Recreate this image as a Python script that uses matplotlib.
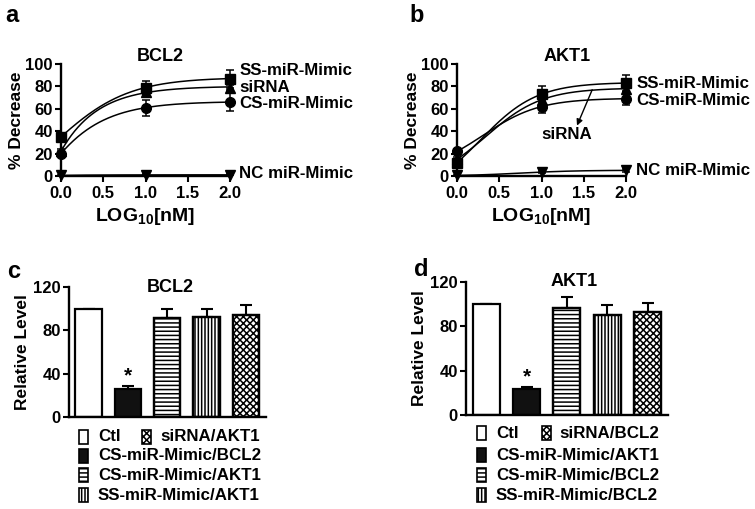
import numpy as np
import matplotlib
matplotlib.use("Agg")
import matplotlib.pyplot as plt
from matplotlib.patches import Rectangle

plt.rcParams['font.family'] = ['Liberation Sans', 'DejaVu Sans']
plt.rcParams['font.weight'] = 'bold'
plt.rcParams['axes.labelweight'] = 'bold'
plt.rcParams['mathtext.fontset'] = 'custom'
plt.rcParams['mathtext.rm'] = 'Liberation Sans:bold'
plt.rcParams['mathtext.bf'] = 'Liberation Sans:bold'
plt.rcParams['mathtext.it'] = 'Liberation Sans:bold'
plt.rcParams['hatch.linewidth'] = 1.1

# ---------------- data ----------------
log_dose = [0.0, 1.0, 2.0]
series_names = ['SS-miR-Mimic', 'siRNA', 'CS-miR-Mimic', 'NC miR-Mimic']
series_markers = ['s', '^', 'o', 'v']

bcl2_mean = {
    'SS-miR-Mimic': [35, 79, 87],
    'siRNA': [22, 75, 79],
    'CS-miR-Mimic': [20, 61, 66],
    'NC miR-Mimic': [0.5, 1.0, 1.0],
}
bcl2_err = {
    'SS-miR-Mimic': [2, 6, 8],
    'siRNA': [2, 3, 2],
    'CS-miR-Mimic': [2, 7, 8],
    'NC miR-Mimic': [0.5, 0.5, 0.5],
}
akt1_mean = {
    'SS-miR-Mimic': [12, 73, 83],
    'siRNA': [15, 68, 78],
    'CS-miR-Mimic': [22, 62, 69],
    'NC miR-Mimic': [0.5, 3.5, 5.0],
}
akt1_err = {
    'SS-miR-Mimic': [2, 7, 7],
    'siRNA': [2, 4, 3],
    'CS-miR-Mimic': [2, 6, 6],
    'NC miR-Mimic': [0.5, 1, 1],
}

bar_labels_c = ['Ctl', 'CS-miR-Mimic/BCL2', 'CS-miR-Mimic/AKT1', 'SS-miR-Mimic/AKT1', 'siRNA/AKT1']
bar_vals_c = [100, 26, 91.5, 92.5, 94.3]
bar_err_c = [0, 3, 8, 7, 9]
bar_labels_d = ['Ctl', 'CS-miR-Mimic/AKT1', 'CS-miR-Mimic/BCL2', 'SS-miR-Mimic/BCL2', 'siRNA/BCL2']
bar_vals_d = [100, 23, 96.5, 90.3, 92.4]
bar_err_d = [0, 2.5, 9.5, 8.7, 8.6]
bar_fill = ['white', '#111111', 'white', 'white', 'white']
bar_hatch = [None, None, '----', '|||||', 'xxxxx']

W, H = 755, 509
fig = plt.figure(figsize=(W / 100, H / 100), dpi=100)


def ax_px(l, t, r, b):
    return fig.add_axes([l / W, 1 - b / H, (r - l) / W, (b - t) / H])


def fx(x):
    return x / W


def fy(y):
    return 1 - y / H


def hill_fit(x, y, h):
    x = np.asarray(x, float)
    y = np.asarray(y, float)
    best = None
    for c in np.linspace(-3, 4, 3501):
        s = 1 / (1 + 10 ** ((c - x) * h))
        A = np.column_stack([np.ones_like(s), s])
        coef = np.linalg.lstsq(A, y, rcond=None)[0]
        r = np.sum((A @ coef - y) ** 2)
        if best is None or r < best[0]:
            best = (r, c, coef)
    _, c, coef = best
    xs = np.linspace(0, 2, 200)
    return xs, coef[0] + coef[1] / (1 + 10 ** ((c - xs) * h))


def style_axes(ax):
    for s in ['top', 'right']:
        ax.spines[s].set_visible(False)
    for s in ['left', 'bottom']:
        ax.spines[s].set_linewidth(1.7)
    ax.tick_params(direction='out', length=4, width=1.5, labelsize=12, pad=2)


def dose_panel(ax, mean, err, hill):
    for name, mk in zip(series_names, series_markers):
        xs, ys = hill_fit(log_dose, mean[name], hill)
        ax.plot(xs, ys, color='black', lw=1.1, clip_on=False, zorder=2)
        ax.errorbar(log_dose, mean[name], yerr=err[name], fmt=mk, color='black',
                    ms=7, capsize=3, elinewidth=1.1, capthick=1.1,
                    clip_on=False, zorder=3)
    ax.set_xlim(0, 2)
    ax.set_ylim(0, 100)
    ax.set_xticks([0, 0.5, 1.0, 1.5, 2.0])
    ax.set_xticklabels(['0.0', '0.5', '1.0', '1.5', '2.0'])
    ax.set_yticks([0, 20, 40, 60, 80, 100])
    style_axes(ax)
    ax.tick_params(axis='x', pad=3)
    ax.set_xlabel('LOG$_{10}$[nM]', fontsize=14, labelpad=4)
    ax.set_ylabel('% Decrease', fontsize=12.5, labelpad=1)


# ---- panel a ----
axa = ax_px(61, 64, 230, 176)
dose_panel(axa, bcl2_mean, bcl2_err, 1.0)
axa.text(1.17, 107, 'BCL2', ha='center', va='center', fontsize=13)
for txt, yv in [('SS-miR-Mimic', 94), ('siRNA', 79), ('CS-miR-Mimic', 65), ('NC miR-Mimic', 1.8)]:
    axa.text(2.11, yv, txt, ha='left', va='center', fontsize=12.2)

# ---- panel b ----
axb = ax_px(457, 64, 626, 176)
dose_panel(axb, akt1_mean, akt1_err, 1.3)
axb.text(1.3, 107, 'AKT1', ha='center', va='center', fontsize=13)
for txt, yv in [('SS-miR-Mimic', 83), ('CS-miR-Mimic', 67), ('NC miR-Mimic', 4.5)]:
    axb.text(2.12, yv, txt, ha='left', va='center', fontsize=12.2)
axb.annotate('', xy=(1.42, 45), xytext=(1.6, 77),
             arrowprops=dict(arrowstyle='-|>', color='black', lw=1.0,
                             shrinkA=0, shrinkB=0, mutation_scale=9))
axb.text(1.30, 37, 'siRNA', ha='center', va='center', fontsize=12.2)


# ---- bar panels ----
def bar_panel(ax, vals, errs):
    xs = np.arange(len(vals))
    ax.bar(xs, vals, width=0.67, color=bar_fill, edgecolor='black', linewidth=1.6,
           zorder=2)
    for i, h in enumerate(bar_hatch):
        if h:
            ax.bar(xs[i], vals[i], width=0.67, color='none', edgecolor='black',
                   linewidth=1.6, hatch=h, zorder=2)
    ax.errorbar(xs, vals, yerr=[[0] * len(errs), errs], fmt='none', ecolor='black',
                elinewidth=1.5, capsize=4.5, capthick=1.5, zorder=1)
    ax.set_xlim(-0.5, 4.5)
    ax.set_ylim(0, 120)
    ax.set_yticks([0, 40, 80, 120])
    ax.set_xticks([])
    style_axes(ax)
    ax.set_ylabel('Relative Level', fontsize=12.5, labelpad=2)
    ax.text(xs[1], vals[1] + errs[1] + 0.5, '*', ha='center', va='bottom', fontsize=15)


axc = ax_px(69, 287, 265.5, 417)
bar_panel(axc, bar_vals_c, bar_err_c)
fig.text(fx(170.5), fy(288), 'BCL2', ha='center', va='center', fontsize=13)

axd = ax_px(466, 281.7, 667.7, 415)
bar_panel(axd, bar_vals_d, bar_err_d)
fig.text(fx(574), fy(281), 'AKT1', ha='center', va='center', fontsize=13)


def legend_manual(labels, sq_x1, txt_x1, sq_x2, txt_x2, rows):
    order = [(0, sq_x1, txt_x1, rows[0]), (4, sq_x2, txt_x2, rows[0]),
             (1, sq_x1, txt_x1, rows[1]), (2, sq_x1, txt_x1, rows[2]),
             (3, sq_x1, txt_x1, rows[3])]
    for idx, sx, tx, yc in order:
        r = Rectangle((fx(sx), fy(yc + 7)), 9 / W, 14 / H, transform=fig.transFigure,
                      facecolor=bar_fill[idx], edgecolor='black', linewidth=1.2,
                      hatch=bar_hatch[idx])
        fig.add_artist(r)
        fig.text(fx(tx), fy(yc), labels[idx], ha='left', va='center', fontsize=12.2)


legend_manual(bar_labels_c, 79, 98, 141.5, 160, [436.7, 455.7, 475, 495])
legend_manual(bar_labels_d, 477, 496, 541.5, 559.5, [433.3, 455, 475, 495])

# panel letters
for letter, x, y in [('a', 5, 15), ('b', 409, 15), ('c', 7, 272), ('d', 414, 270)]:
    fig.text(fx(x), fy(y), letter, ha='left', va='center', fontsize=17)

fig.savefig('out.png', dpi=100)
